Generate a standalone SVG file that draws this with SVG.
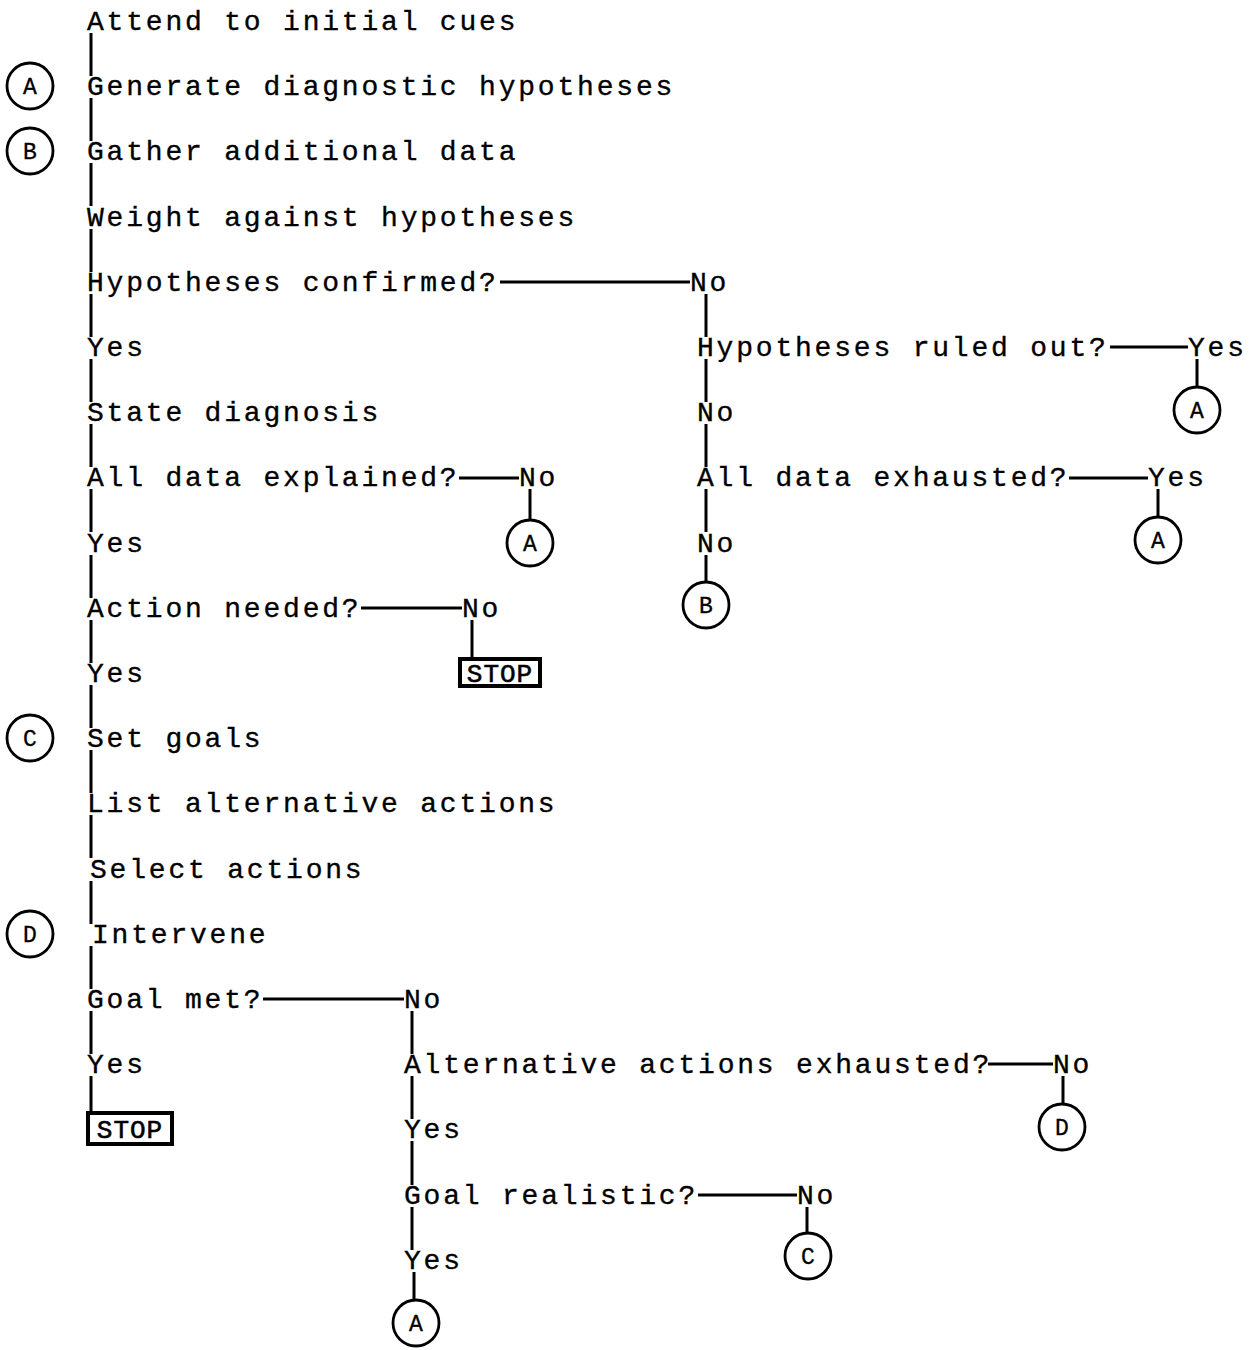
<svg xmlns="http://www.w3.org/2000/svg" width="1257" height="1350" viewBox="0 0 1257 1350">
<style>
  .t { font-family: "Liberation Mono", "DejaVu Sans Mono", monospace; font-size: 28px; letter-spacing: 2.8px; fill: #000; stroke: #000; stroke-width: 0.35; }
  .c { fill: none; stroke: #000; stroke-width: 2.8; }
  .cl { font-family: "Liberation Mono", "DejaVu Sans Mono", monospace; font-size: 23px; fill: #000; text-anchor: middle; stroke: #000; stroke-width: 0.3; }
  .ln { stroke: #000; stroke-width: 3; fill: none; }
  .stopbox { fill: #fff; stroke: #000; stroke-width: 4; }
  .stop { font-family: "Liberation Mono", "DejaVu Sans Mono", monospace; font-size: 26px; letter-spacing: 1px; fill: #000; text-anchor: middle; stroke: #000; stroke-width: 0.6; }
</style>
<rect width="1257" height="1350" fill="#fff"/>

<g id="connectors">
  <path class="ln" d="M91 33V76 M91 98V141 M91 163V206 M91 229V272 M91 294V337 M91 359V402 M91 424V467 M91 489V532 M91 555V598 M91 620V663 M91 685V728 M91 750V793 M91 815V858 M91 881V924 M91 946V989 M91 1011V1054 M91 1076V1113"/>
  <path class="ln" d="M500 282H690 M1110 347H1188 M459 478H519 M1069 478H1148 M361 608H462 M263 999H404 M988 1064H1053 M698 1195H797"/>
  <path class="ln" d="M706 294V337 M706 359V402 M706 424V467 M706 489V532 M706 555V582"/>
  <path class="ln" d="M1197 359V387"/>
  <path class="ln" d="M530 489V520"/>
  <path class="ln" d="M1158 489V517"/>
  <path class="ln" d="M472 620V659"/>
  <path class="ln" d="M412 1011V1054 M412 1076V1119 M412 1141V1185 M412 1207V1250 M414 1272V1300"/>
  <path class="ln" d="M1063 1076V1104"/>
  <path class="ln" d="M807 1207V1233"/>
</g>

<g id="n-attend"><text class="t" x="87" y="30">Attend to initial cues</text></g>
<g id="n-generate"><text class="t" x="87" y="95">Generate diagnostic hypotheses</text></g>
<g id="n-gather"><text class="t" x="87" y="160">Gather additional data</text></g>
<g id="n-weight"><text class="t" x="87" y="226">Weight against hypotheses</text></g>
<g id="n-confirmed"><text class="t" x="87" y="291">Hypotheses confirmed?</text></g>
<g id="n-confirmed-no"><text class="t" x="690" y="291">No</text></g>
<g id="n-confirmed-yes"><text class="t" x="87" y="356">Yes</text></g>
<g id="n-ruledout"><text class="t" x="697" y="356">Hypotheses ruled out?</text></g>
<g id="n-ruledout-yes"><text class="t" x="1188" y="356">Yes</text></g>
<g id="n-state"><text class="t" x="87" y="421">State diagnosis</text></g>
<g id="n-ruledout-no"><text class="t" x="697" y="421">No</text></g>
<g id="n-explained"><text class="t" x="87" y="486">All data explained?</text></g>
<g id="n-explained-no"><text class="t" x="519" y="486">No</text></g>
<g id="n-exhausted"><text class="t" x="697" y="486">All data exhausted?</text></g>
<g id="n-exhausted-yes"><text class="t" x="1148" y="486">Yes</text></g>
<g id="n-explained-yes"><text class="t" x="87" y="552">Yes</text></g>
<g id="n-exhausted-no"><text class="t" x="697" y="552">No</text></g>
<g id="n-action"><text class="t" x="87" y="617">Action needed?</text></g>
<g id="n-action-no"><text class="t" x="462" y="617">No</text></g>
<g id="n-action-yes"><text class="t" x="87" y="682">Yes</text></g>
<g id="n-setgoals"><text class="t" x="87" y="747">Set goals</text></g>
<g id="n-list"><text class="t" x="87" y="812">List alternative actions</text></g>
<g id="n-select"><text class="t" x="90" y="878">Select actions</text></g>
<g id="n-intervene"><text class="t" x="92" y="943">Intervene</text></g>
<g id="n-goalmet"><text class="t" x="87" y="1008">Goal met?</text></g>
<g id="n-goalmet-no"><text class="t" x="404" y="1008">No</text></g>
<g id="n-goalmet-yes"><text class="t" x="87" y="1073">Yes</text></g>
<g id="n-altexh"><text class="t" x="404" y="1073">Alternative actions exhausted?</text></g>
<g id="n-altexh-no"><text class="t" x="1053" y="1073">No</text></g>
<g id="n-altexh-yes"><text class="t" x="404" y="1138">Yes</text></g>
<g id="n-realistic"><text class="t" x="404" y="1204">Goal realistic?</text></g>
<g id="n-realistic-no"><text class="t" x="797" y="1204">No</text></g>
<g id="n-realistic-yes"><text class="t" x="404" y="1269">Yes</text></g>

<g id="stop1"><rect class="stopbox" x="460" y="659" width="80" height="27"/><text class="stop" x="500" y="682">STOP</text></g>
<g id="stop2"><rect class="stopbox" x="88" y="1113" width="84" height="31"/><text class="stop" x="130" y="1138">STOP</text></g>

<g id="circle-A-left"><circle class="c" cx="30" cy="86" r="23"/><text class="cl" x="30" y="94">A</text></g>
<g id="circle-B-left"><circle class="c" cx="30" cy="151" r="23"/><text class="cl" x="30" y="159">B</text></g>
<g id="circle-C-left"><circle class="c" cx="30" cy="738" r="23"/><text class="cl" x="30" y="746">C</text></g>
<g id="circle-D-left"><circle class="c" cx="30" cy="934" r="23"/><text class="cl" x="30" y="942">D</text></g>
<g id="circle-A-1"><circle class="c" cx="1197" cy="410" r="23"/><text class="cl" x="1197" y="418">A</text></g>
<g id="circle-A-2"><circle class="c" cx="530" cy="543" r="23"/><text class="cl" x="530" y="551">A</text></g>
<g id="circle-A-3"><circle class="c" cx="1158" cy="540" r="23"/><text class="cl" x="1158" y="548">A</text></g>
<g id="circle-B-1"><circle class="c" cx="706" cy="605" r="23"/><text class="cl" x="706" y="613">B</text></g>
<g id="circle-D-1"><circle class="c" cx="1062" cy="1127" r="23"/><text class="cl" x="1062" y="1135">D</text></g>
<g id="circle-C-1"><circle class="c" cx="808" cy="1256" r="23"/><text class="cl" x="808" y="1264">C</text></g>
<g id="circle-A-4"><circle class="c" cx="416" cy="1323" r="23"/><text class="cl" x="416" y="1331">A</text></g>
</svg>
